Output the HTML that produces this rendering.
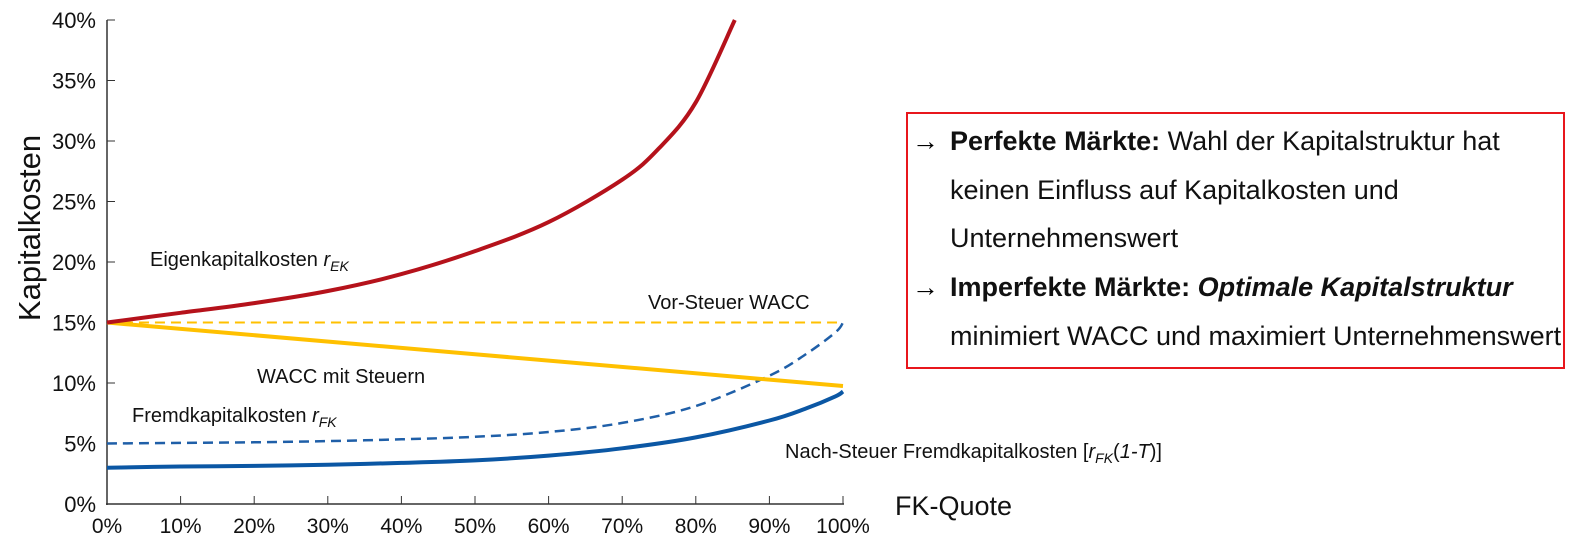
<!DOCTYPE html>
<html><head><meta charset="utf-8"><style>
body{margin:0;background:#fff;width:1586px;height:546px;overflow:hidden;font-family:"Liberation Sans",sans-serif;}
#box{position:absolute;left:906px;top:112px;width:659px;height:257px;border:2px solid #e8161c;box-sizing:border-box;}
.ln{position:absolute;left:42px;font-size:27px;color:#111;white-space:nowrap;}
.ar{position:absolute;left:4px;font-size:27px;font-weight:bold;}
</style></head><body>
<svg id="chart" width="1586" height="546" style="position:absolute;left:0;top:0" font-family="Liberation Sans, sans-serif"></svg>
<div id="box">
<span class="ar" style="top:12px">→</span>
<div class="ln" style="top:12px"><b>Perfekte Märkte:</b> Wahl der Kapitalstruktur hat</div>
<div class="ln" style="top:61px">keinen Einfluss auf Kapitalkosten und</div>
<div class="ln" style="top:109px">Unternehmenswert</div>
<span class="ar" style="top:158px">→</span>
<div class="ln" style="top:158px"><b>Imperfekte Märkte: <i>Optimale Kapitalstruktur</i></b></div>
<div class="ln" style="top:207px">minimiert WACC und maximiert Unternehmenswert</div>
</div>
<script>
const xTicks=[0,10,20,30,40,50,60,70,80,90,100];
const yTicks=[0,5,10,15,20,25,30,35,40];
const ekX=[0,10,20,30,40,50,60,70,75,80,85.3];
const ekY=[15,15.8,16.6,17.6,19.0,20.9,23.3,26.8,29.4,33.2,40];
const fkX=[0,10,20,30,40,50,60,70,80,90,95,99,100];
const fkY=[5,5.05,5.1,5.2,5.35,5.55,5.95,6.7,8.1,10.6,12.4,14.2,15];
const fkTaxY=[3.0,3.1,3.15,3.25,3.4,3.6,4.0,4.6,5.5,6.9,7.9,8.9,9.3];
const waccX=[0,100];
const waccTaxY=[15,9.75];
const waccPreY=[15,15];
const svg=document.getElementById('chart');
const X=v=>107+v*7.36, Y=v=>504-v*12.1;
const NS='http://www.w3.org/2000/svg';
function mk(t,a,name){const e=document.createElementNS(NS,t);for(const k in a)e.setAttribute(k,a[k]);


svg.appendChild(e);return e;}
function smooth(xs,ys){const p=xs.map((x,i)=>[X(x),Y(ys[i])]);let d='M'+p[0][0].toFixed(1)+','+p[0][1].toFixed(1);
for(let i=0;i<p.length-1;i++){const p0=p[Math.max(0,i-1)],p1=p[i],p2=p[i+1],p3=p[Math.min(p.length-1,i+2)];
const c1=[p1[0]+(p2[0]-p0[0])/6,p1[1]+(p2[1]-p0[1])/6],c2=[p2[0]-(p3[0]-p1[0])/6,p2[1]-(p3[1]-p1[1])/6];
d+='C'+c1.map(v=>v.toFixed(1))+' '+c2.map(v=>v.toFixed(1))+' '+p2.map(v=>v.toFixed(1));}return d;}
mk('line',{x1:107,y1:20,x2:107,y2:505,stroke:'#333','stroke-width':1.5},'y-axis');
mk('line',{x1:106,y1:504,x2:844,y2:504,stroke:'#333','stroke-width':1.5},'x-axis');
yTicks.forEach(v=>{mk('line',{x1:107,y1:Y(v),x2:115,y2:Y(v),stroke:'#333'},'y-tick');
const t=mk('text',{x:96,y:Y(v)+8,'text-anchor':'end','font-size':22,fill:'#111'},'y-tick-label');t.textContent=v+'%';});
xTicks.forEach(v=>{mk('line',{x1:X(v),y1:504,x2:X(v),y2:496,stroke:'#333'},'x-tick');
const t=mk('text',{x:X(v),y:533,'text-anchor':'middle','font-size':21,fill:'#111'},'x-tick-label');t.textContent=v+'%';});
const yt=mk('text',{x:40,y:228,'text-anchor':'middle','font-size':31,fill:'#111',transform:'rotate(-90 40 228)'},'y-axis-title');yt.textContent='Kapitalkosten';
const xt=mk('text',{x:895,y:515,'font-size':27,fill:'#111'},'x-axis-title');xt.textContent='FK-Quote';
mk('path',{d:smooth(waccX,waccPreY),stroke:'#ffc000','stroke-width':2,fill:'none','stroke-dasharray':'10,6'},'pre-tax-wacc-line');
mk('path',{d:smooth(fkX,fkY),stroke:'#1f5fa8','stroke-width':2.5,fill:'none','stroke-dasharray':'10,6'},'debt-cost-line');
mk('path',{d:smooth(fkX,fkTaxY),stroke:'#0b57a4','stroke-width':4,fill:'none'},'after-tax-debt-cost-line');
mk('path',{d:smooth(waccX,waccTaxY),stroke:'#ffc000','stroke-width':4,fill:'none'},'wacc-with-tax-line');
mk('path',{d:smooth(ekX,ekY),stroke:'#b5121b','stroke-width':4,fill:'none'},'equity-cost-line');
function lab(x,y,html,name){const t=mk('text',{x:x,y:y,'font-size':20,fill:'#111'},name);t.innerHTML=html;}
lab(150,266,'Eigenkapitalkosten <tspan font-style="italic">r</tspan><tspan font-style="italic" font-size="14" dy="5">EK</tspan>','equity-cost-label');
lab(648,309,'Vor-Steuer WACC','pre-tax-wacc-label');
lab(257,383,'WACC mit Steuern','wacc-tax-label');
lab(132,422,'Fremdkapitalkosten <tspan font-style="italic">r</tspan><tspan font-style="italic" font-size="14" dy="5">FK</tspan>','debt-cost-label');
lab(785,458,'Nach-Steuer Fremdkapitalkosten [<tspan font-style="italic">r</tspan><tspan font-style="italic" font-size="14" dy="5">FK</tspan><tspan dy="-5">(</tspan><tspan font-style="italic">1-T</tspan>)]','after-tax-debt-label');
</script>
</body></html>
